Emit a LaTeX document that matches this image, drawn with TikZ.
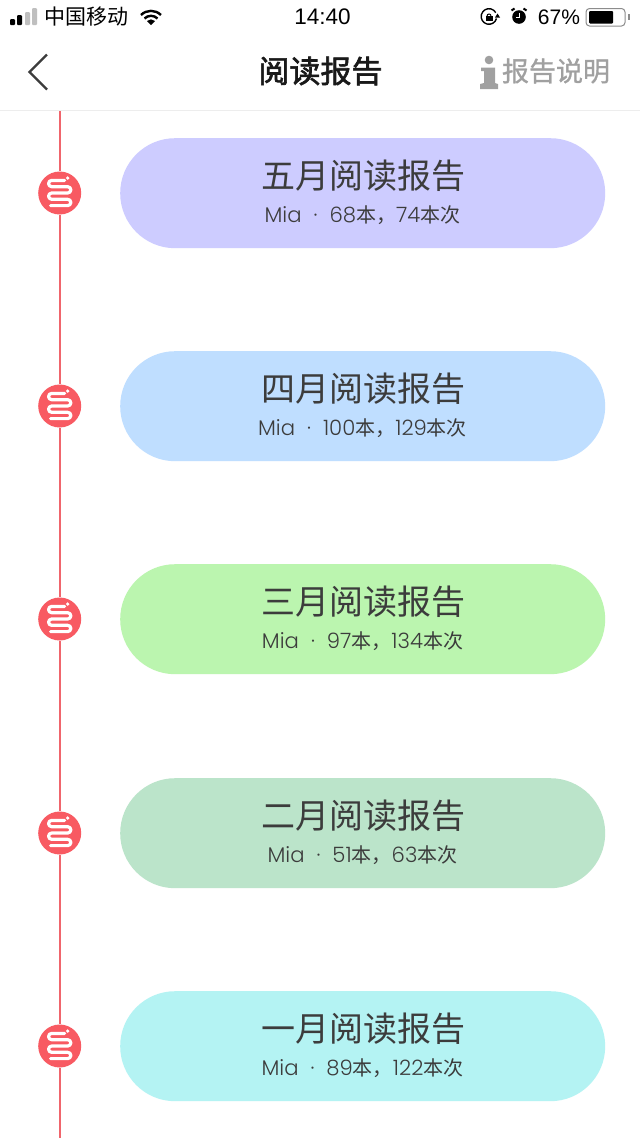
\documentclass[tikz,border=0pt]{standalone}
\usepackage{fontspec}
\setmainfont{Noto Sans CJK SC}
\newfontfamily\latinui{Liberation Sans}
\newfontfamily\lat{Poppins}[UprightFont=* Light,Scale=1.06]
\newfontfamily\navf{Noto Sans CJK SC}[FakeBold=2]
\newfontfamily\greyf{Noto Sans CJK SC}[FakeBold=1]
\definecolor{tline}{HTML}{F0656C}
\definecolor{tdot}{HTML}{F85A62}
\definecolor{ink}{HTML}{3C3C3C}
\definecolor{greyui}{HTML}{A0A0A0}
\definecolor{pa}{HTML}{CDCCFF}
\definecolor{pb}{HTML}{BFDEFF}
\definecolor{pc}{HTML}{BBF5AF}
\definecolor{pd}{HTML}{BBE4CA}
\definecolor{pe}{HTML}{B4F3F3}
\tikzset{
  pill/.style={minimum width=485pt,minimum height=110pt,rounded corners=54.9pt,inner sep=0pt,anchor=north west},
  dot/.style={circle,fill=tdot,minimum size=43pt,inner sep=0pt},
  ttl/.style={text=ink,font=\fontsize{34}{36}\selectfont,inner sep=0pt},
  sub/.style={text=ink,font=\fontsize{20}{22}\selectfont,inner sep=0pt},
  status/.style={text=black,inner sep=0pt},
  rail/.style={draw=tline,line width=1.7pt},
  snake/.style={draw=white,line width=3.2pt,line cap=round,line join=round}
}
\newcommand{\subline}[2]{{\lat Mia\hspace{12pt}·\hspace{12pt}#1}本，{\lat #2}本次}
\newcommand{\reportrow}[5]{%
  \node[pill,fill=#3] (p#1) at (120,#2) {};
  \node[ttl] (t#1) at (363,#2+38) {#4};
  \node[sub] (s#1) at (362.5,#2+77.5) {#5};
  \node[dot] (d#1) at (59.7,#2+55) {};
  \begin{scope}[shift={(d#1.center)}]
    \draw[snake] (5,-12.6) -- (-8,-12.6) arc[start angle=270,end angle=90,radius=3.15]
      -- (8,-6.3) arc[start angle=270,end angle=450,radius=3.15]
      -- (-8,0) arc[start angle=270,end angle=90,radius=3.15]
      -- (8,6.3) arc[start angle=270,end angle=450,radius=3.15]
      -- (-9,12.6);
    \fill[white] (8,-15) circle (1.8);
  \end{scope}
}
\begin{document}
\begin{tikzpicture}[x=1pt,y=-1pt]
\useasboundingbox (0,0) rectangle (640,1138);
\fill[white] (0,0) rectangle (640,1138);
% status bar
\fill[black,rounded corners=1pt] (10,19) rectangle (15,25);
\fill[black,rounded corners=1pt] (17,15) rectangle (22,25);
\fill[black!25,rounded corners=1pt] (25,12) rectangle (30,25);
\fill[black!25,rounded corners=1pt] (32,8) rectangle (37,25);
\node[status,font=\fontsize{21}{22}\selectfont] (carrier) at (86,17) {中国移动};
\begin{scope}[shift={(151,25)}]
  \fill[black] (0,0) -- (-4,-4) arc[start angle=225,end angle=315,radius=5.66] -- cycle;
  \draw[black,line width=2.4pt] (-6.5,-6.5) arc[start angle=225,end angle=315,radius=9.2];
  \draw[black,line width=2.4pt] (-10,-10) arc[start angle=225,end angle=315,radius=14.1];
\end{scope}
\node[status,font=\latinui\fontsize{22.5}{24}\selectfont] (clock) at (322.5,17) {14:40};
\begin{scope}[shift={(489,16.5)}]
  \draw[black,line width=1.4pt] (7.5,2) arc[start angle=15,end angle=330,radius=7.8];
  \fill[black] (6,1) -- (11,1) -- (8.5,-3) -- cycle;
  \fill[black] (-3.5,-0.5) rectangle (3.5,4.5);
  \draw[black,line width=1pt] (-2,-0.5) arc[start angle=180,end angle=360,radius=2];
\end{scope}
\begin{scope}[shift={(519,17)}]
  \fill[black] (0,0) circle (6.8);
  \draw[white,line width=1pt] (0,-4) -- (0,0) -- (-3,0);
  \draw[black,line width=2pt] (-7.5,-6.5) -- (-4.5,-8.5);
  \draw[black,line width=2pt] (7.5,-6.5) -- (4.5,-8.5);
\end{scope}
\node[status,font=\latinui\fontsize{21}{22}\selectfont] (pct) at (559,17) {67\%};
\draw[black!45,line width=1pt,rounded corners=3.5pt] (586,8.5) rectangle (625,26);
\fill[black,rounded corners=1pt] (589,11) rectangle (613,23.5);
\fill[black!45] (628,14) rectangle (630,20);
% navigation
\draw[ink,line width=2.2pt] (47,54.5) -- (29.5,72) -- (47,89.5);
\node[text=black!90,font=\navf\fontsize{31}{33}\selectfont,inner sep=0pt] (navtitle) at (320.5,71) {阅读报告};
\fill[greyui] (489,60) circle (4.3);
\fill[greyui] (481,67.5) -- (495,67.5) -- (495,83) -- (498,84) -- (498,89) -- (480,89) -- (480,84) -- (484,83) -- (484,71) -- (481,71) -- cycle;
\node[text=greyui,font=\greyf\fontsize{27}{29}\selectfont,inner sep=0pt] (explain) at (556,71) {报告说明};
\draw[black!7,line width=1pt] (0,110.5) -- (640,110.5);
% rows
\reportrow{a}{138}{pa}{五月阅读报告}{\subline{68}{74}}
\reportrow{b}{351}{pb}{四月阅读报告}{\subline{100}{129}}
\reportrow{c}{564}{pc}{三月阅读报告}{\subline{97}{134}}
\reportrow{d}{778}{pd}{二月阅读报告}{\subline{51}{63}}
\reportrow{e}{991}{pe}{一月阅读报告}{\subline{89}{122}}
% rail
\coordinate (railtop) at (59.7,111);
\coordinate (railend) at (59.7,1138);
\draw[rail] (railtop) -- (da);
\draw[rail] (da) -- (db);
\draw[rail] (db) -- (dc);
\draw[rail] (dc) -- (dd);
\draw[rail] (dd) -- (de);
\draw[rail] (de) -- (railend);
\end{tikzpicture}
\end{document}
